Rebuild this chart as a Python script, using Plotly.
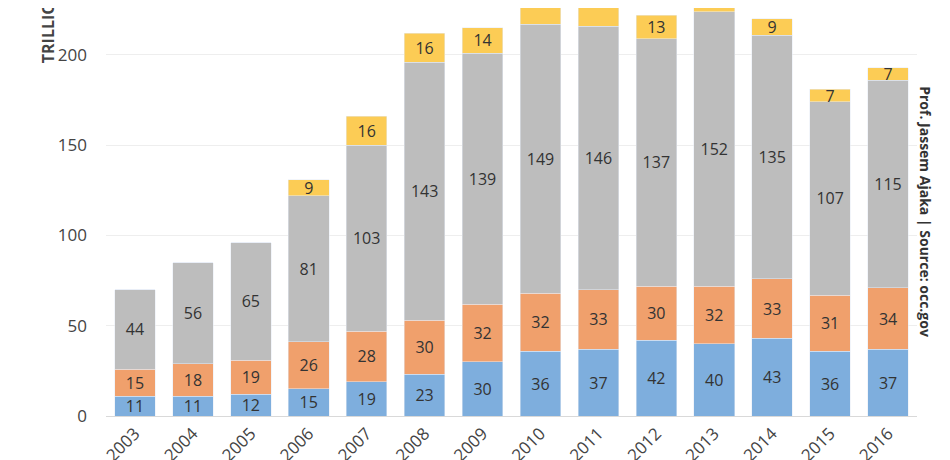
import plotly.graph_objects as go

years = [str(y) for y in range(2003, 2017)]
blue = [11, 11, 12, 15, 19, 23, 30, 36, 37, 42, 40, 43, 36, 37]
orange = [15, 18, 19, 26, 28, 30, 32, 32, 33, 30, 32, 33, 31, 34]
gray = [44, 56, 65, 81, 103, 143, 139, 149, 146, 137, 152, 135, 107, 115]
yellow = [0, 0, 0, 9, 16, 16, 14, 14, 15, 13, 11, 9, 7, 7]

colors = ["#7eaedd", "#f0a06c", "#bdbdbd", "#fccc55"]

fig = go.Figure()
for vals, col in zip([blue, orange, gray, yellow], colors):
    fig.add_trace(go.Bar(
        x=years, y=vals, marker_color=col,
        text=[str(v) if v else "" for v in vals],
        textposition="inside", insidetextanchor="middle", textangle=0,
        constraintext="none",
        textfont=dict(size=16, color="#333333", family="Open Sans"),
        cliponaxis=False,
    ))

fig.update_layout(
    barmode="stack", bargap=0.3, showlegend=False,
    width=950, height=460, margin=dict(l=98, r=41, t=0, b=52),
    plot_bgcolor="white", paper_bgcolor="white",
    font=dict(family="Open Sans", color="#444444"),
    yaxis=dict(range=[0, 226], tickvals=[0, 50, 100, 150, 200],
               showgrid=True, gridcolor="#eeeeee", zeroline=False,
               tickfont=dict(size=17), ticks="", ticklabelstandoff=18),
    xaxis=dict(tickangle=-45, tickfont=dict(size=17), showline=True,
               linecolor="#d9d9d9", ticks=""),
)
fig.add_annotation(text="<b>TRILLIONS</b>", textangle=-90, xref="paper", yref="paper",
                   x=-0.072, y=0.86, xanchor="center", yanchor="bottom", showarrow=False,
                   font=dict(size=16, color="#444444"))
fig.add_annotation(text="<b>Prof. Jassem Ajaka | Source: occ.gov</b>", textangle=90,
                   xref="paper", yref="paper", x=1.025, y=0.5, showarrow=False,
                   font=dict(size=14, color="#333333"))
fig.write_html("out.html")
